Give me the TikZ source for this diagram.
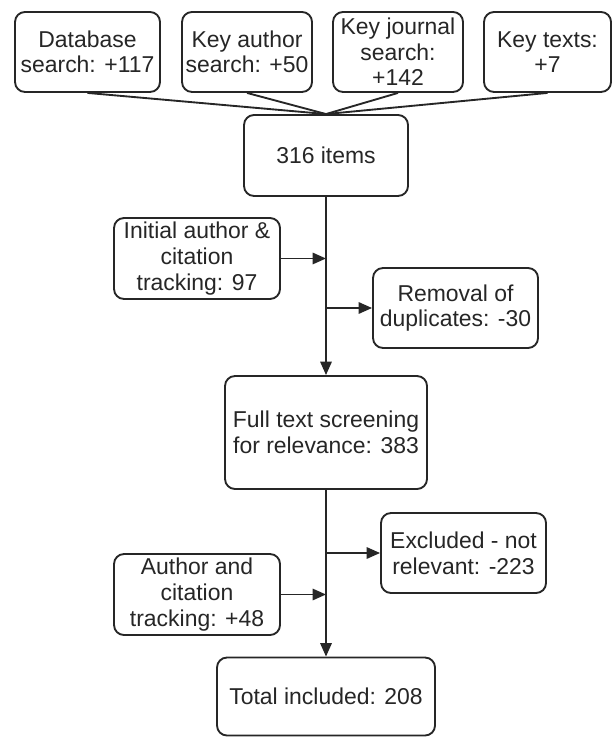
\documentclass[tikz,border=0pt]{standalone}
\usepackage{fontspec}
\setmainfont{Liberation Sans}
\usetikzlibrary{arrows.meta}
\begin{document}
\begin{tikzpicture}[x=0.75pt,y=-0.75pt,
  box/.style={draw=black!85, line width=1.4pt, rounded corners=7.5pt, fill=white,
    align=center, inner sep=0pt, text=black!85,
    font=\fontsize{17.2}{19.2}\selectfont},
  link/.style={draw=black!85, line width=1.4pt},
  arr/.style={link, -{Triangle[length=10pt,width=8.5pt]}}]
\useasboundingbox (0,0) rectangle (613,737);
% top boxes
\node[box, minimum width=145*0.75pt, minimum height=80*0.75pt] (db) at (87.5,52) {Database\\search: +117};
\node[box, minimum width=130*0.75pt, minimum height=80*0.75pt] (ka) at (247,52) {Key author\\search: +50};
\node[box, minimum width=130*0.75pt, minimum height=80*0.75pt] (kj) at (398,52) {Key journal\\search:\\+142};
\node[box, minimum width=127*0.75pt, minimum height=80*0.75pt] (kt) at (547.5,52) {Key texts:\\+7};
\node[box, minimum width=164*0.75pt, minimum height=81*0.75pt] (items) at (326,155.5) {316 items};
\foreach \n in {db,ka,kj,kt} \draw[link] (\n.south) -- (items.north);
% middle
\node[box, minimum width=166*0.75pt, minimum height=81*0.75pt] (ini) at (197,258.5) {Initial author \&\\citation\\tracking: 97};
\node[box, minimum width=165*0.75pt, minimum height=80*0.75pt] (rem) at (455.5,308) {Removal of\\duplicates: -30};
\node[box, minimum width=202*0.75pt, minimum height=113*0.75pt] (full) at (326,432.5) {Full text screening\\for relevance: 383};
\draw[arr] (items.south) -- (full.north);
\draw[arr] (ini.east) -- (ini.east -| items.south);
\draw[arr] (rem.west -| items.south) -- (rem.west);
% lower
\node[box, minimum width=165*0.75pt, minimum height=80*0.75pt] (exc) at (463.5,553) {Excluded - not\\relevant: -223};
\node[box, minimum width=166*0.75pt, minimum height=81*0.75pt] (aut) at (197,594.5) {Author and\\citation\\tracking: +48};
\node[box, minimum width=218*0.75pt, minimum height=78*0.75pt] (tot) at (326,696.5) {Total included: 208};
\draw[arr] (full.south) -- (tot.north);
\draw[arr] (aut.east) -- (aut.east -| full.south);
\draw[arr] (exc.west -| full.south) -- (exc.west);
\end{tikzpicture}
\end{document}
